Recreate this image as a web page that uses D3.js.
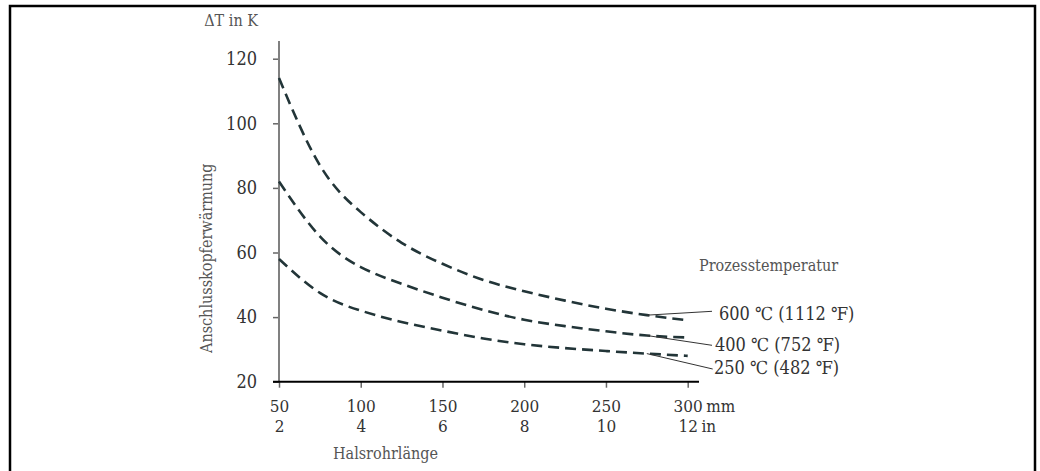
<!DOCTYPE html>
<html>
<head>
<meta charset="utf-8">
<script src="https://cdn.jsdelivr.net/npm/d3@7"></script>
<style>
  body { margin: 0; background: #fff; }
  text { font-family: "DejaVu Serif Condensed", "DejaVu Serif", serif; font-stretch: condensed; }
</style>
</head>
<body>
<svg id="chart" width="1040" height="471"></svg>
<script>
// Halslaenge in mm, Stuetzpunkte der Kurven
let lengthMm = [50, 75, 100, 125, 150, 175, 200, 225, 250, 275, 300];
let rise600 = [114, 87, 72.5, 63, 56.5, 51.5, 48, 45.1, 42.6, 40.6, 39];
let rise400 = [82, 65, 55.5, 50.3, 46, 42.2, 39.2, 37.2, 35.6, 34.3, 33.7];
let rise250 = [58, 47.5, 42, 38.5, 35.8, 33.4, 31.6, 30.4, 29.5, 28.7, 28];

let seriesNames = ['600 ℃ (1112 ℉)', '400 ℃ (752 ℉)', '250 ℃ (482 ℉)'];
let leaderAt = 275; // mm, where the leader lines start on the curve

let mmTicks = [50, 100, 150, 200, 250, 300];
let inTicks = ['2', '4', '6', '8', '10', '12'];
let yTicks = [20, 40, 60, 80, 100, 120];

let series = [rise600, rise400, rise250];

let svg = d3.select('#chart');

let x = d3.scaleLinear().domain([50, 300]).range([279, 687.7]);
let y = d3.scaleLinear().domain([20, 120]).range([381.7, 58.7]);

let numColor = '#333';

// frame, open at the bottom
svg.append('path')
    .attr('d', 'M10,471V6H1035V471')
    .attr('fill', 'none')
    .attr('stroke', '#000')
    .attr('stroke-width', 2.5);

// y axis
let yAxis = svg.append('g')
    .attr('transform', 'translate(279,0)')
    .call(d3.axisLeft(y).tickValues(yTicks).tickSize(6).tickPadding(16));
yAxis.select('.domain').remove();
yAxis.selectAll('.tick line').attr('stroke', '#666').attr('stroke-width', 1.5);
yAxis.selectAll('.tick text')
    .attr('fill', numColor)
    .style('font-size', '18px');

svg.append('line')
    .attr('x1', 279).attr('x2', 279)
    .attr('y1', 41).attr('y2', y(20))
    .attr('stroke', '#808080')
    .attr('stroke-width', 2);

// x axis, two label rows: mm and in
let xAxis = svg.append('g')
    .attr('transform', 'translate(0,' + y(20) + ')')
    .call(d3.axisBottom(x).tickValues(mmTicks).tickSize(6).tickFormat(d => d));
xAxis.select('.domain').remove();
xAxis.selectAll('.tick line').attr('stroke', '#666').attr('stroke-width', 1.5);
xAxis.selectAll('.tick text')
    .attr('y', 30)
    .attr('dy', 0)
    .attr('fill', numColor)
    .style('font-size', '17px');

xAxis.selectAll('.tick').each(function(d, i) {
    d3.select(this).append('text')
        .attr('y', 50)
        .attr('text-anchor', 'middle')
        .attr('fill', numColor)
        .style('font-size', '17px')
        .text(inTicks[i]);
});

svg.append('line')
    .attr('x1', 273).attr('x2', 699)
    .attr('y1', y(20)).attr('y2', y(20))
    .attr('stroke', '#000')
    .attr('stroke-width', 2);

// units after the last tick
let lastTexts = xAxis.selectAll('.tick').filter(d => d === 300).selectAll('text').nodes();
let mmW = lastTexts[0].getComputedTextLength();
let inW = lastTexts[1].getComputedTextLength();
svg.append('text')
    .attr('x', x(300) + mmW / 2 + 4).attr('y', y(20) + 30)
    .attr('fill', numColor).style('font-size', '17px')
    .text('mm');
svg.append('text')
    .attr('x', x(300) + inW / 2 + 4).attr('y', y(20) + 50)
    .attr('fill', numColor).style('font-size', '17px')
    .text('in');

// axis titles
svg.append('text')
    .attr('x', 258).attr('y', 26)
    .attr('text-anchor', 'end')
    .attr('fill', '#555')
    .style('font-size', '16px')
    .text('ΔT in K');

svg.append('text')
    .attr('transform', 'translate(212,353) rotate(-90)')
    .attr('fill', '#555')
    .style('font-size', '16px')
    .text('Anschlusskopferwärmung');

svg.append('text')
    .attr('x', 333).attr('y', 459)
    .attr('fill', '#555')
    .style('font-size', '16px')
    .text('Halsrohrlänge');

svg.append('text')
    .attr('x', 699).attr('y', 271)
    .attr('fill', '#555')
    .style('font-size', '16px')
    .text('Prozesstemperatur');

// curves
let line = d3.line()
    .curve(d3.curveNatural)
    .x((d, i) => x(lengthMm[i]))
    .y(d => y(d));

svg.append('g').selectAll('path')
    .data(series)
    .join('path')
    .attr('d', line)
    .attr('fill', 'none')
    .attr('stroke', '#223538')
    .attr('stroke-width', 2.6)
    .attr('stroke-dasharray', '11,6');

// leader lines and labels
let labelPos = [[712, 311.3, 719, 320], [712, 345.3, 715, 351], [712.7, 369, 714, 374]];
let li = lengthMm.indexOf(leaderAt);
series.forEach((s, i) => {
    let p = labelPos[i];
    svg.append('line')
        .attr('x1', x(leaderAt)).attr('y1', y(s[li]))
        .attr('x2', p[0]).attr('y2', p[1])
        .attr('stroke', '#333')
        .attr('stroke-width', 1);
    svg.append('text')
        .attr('x', p[2]).attr('y', p[3])
        .attr('fill', numColor)
        .style('font-size', '18px')
        .text(seriesNames[i]);
});
</script>
</body>
</html>
